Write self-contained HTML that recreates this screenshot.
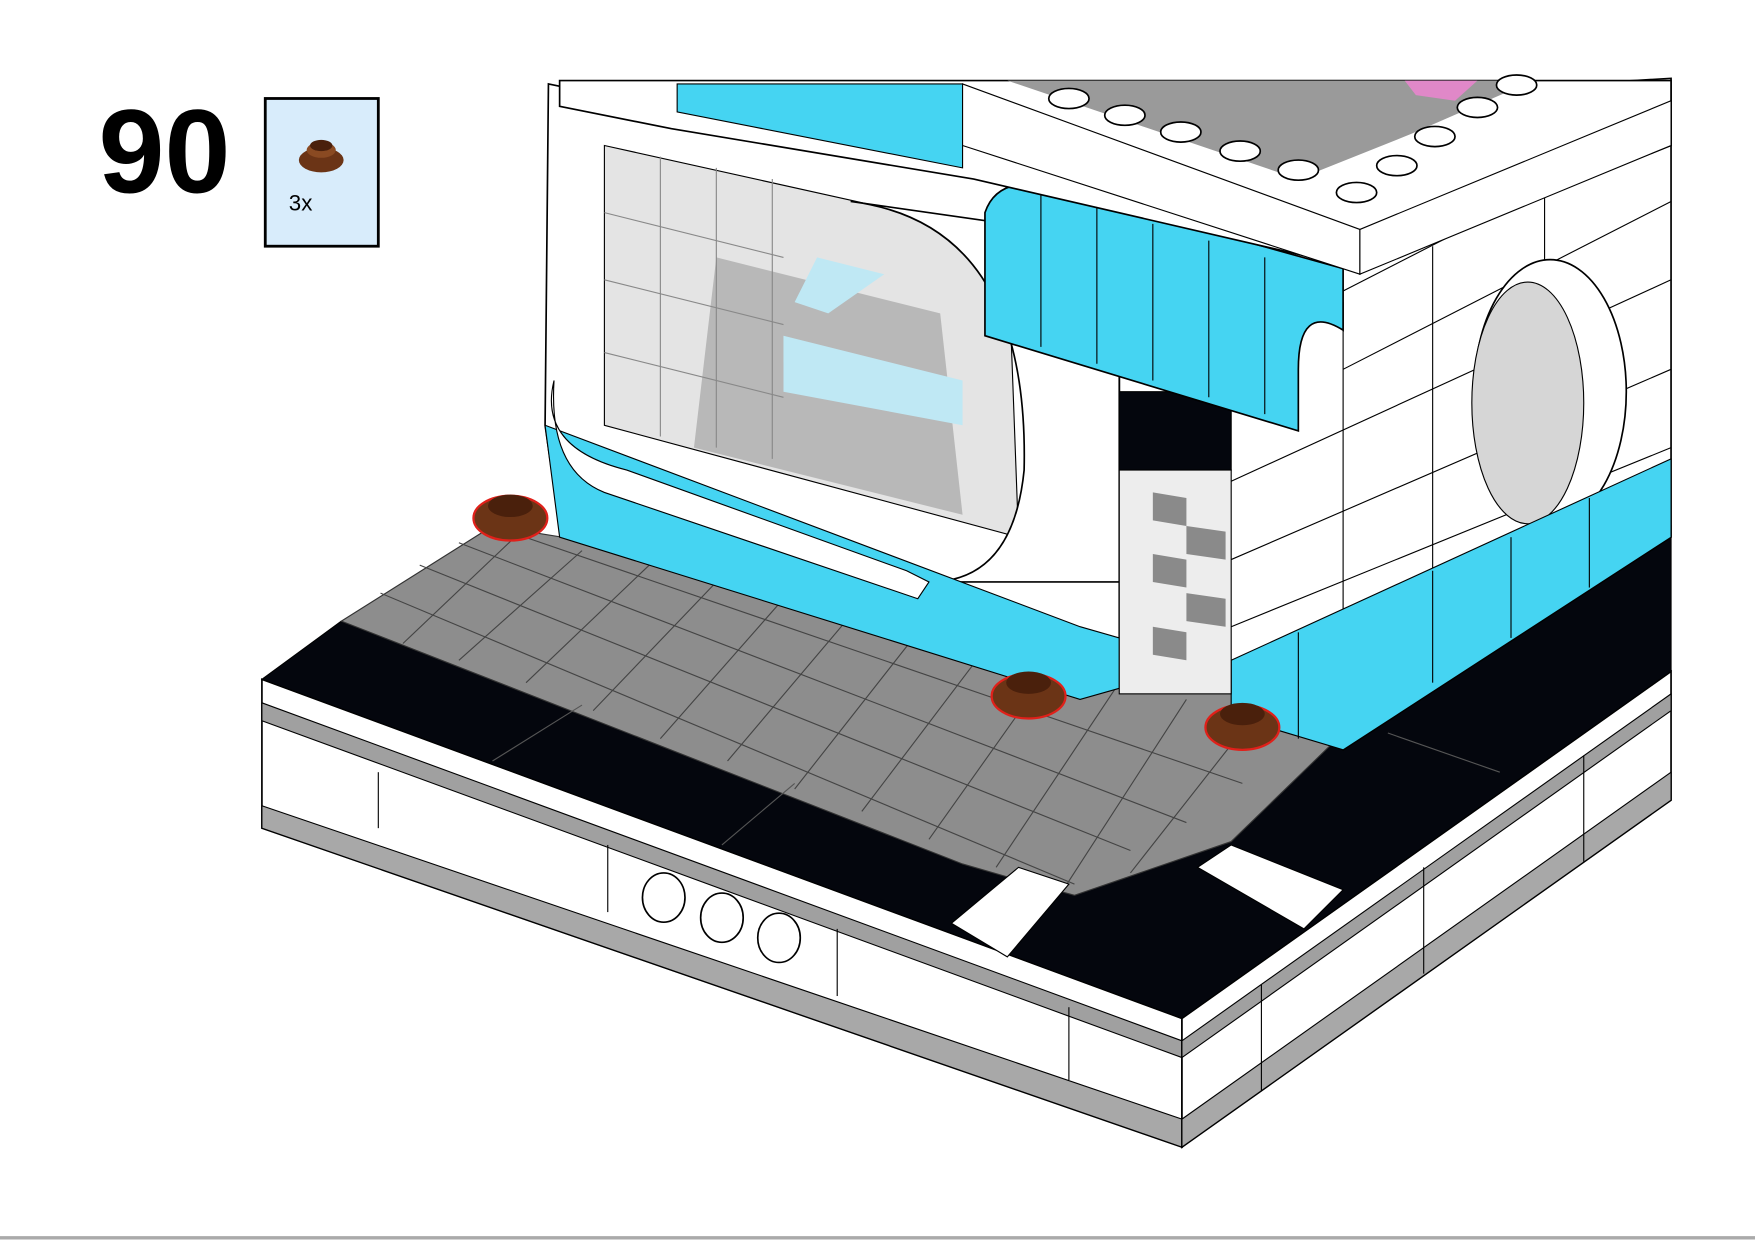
<!DOCTYPE html>
<html><head><meta charset="utf-8"><style>
html,body{margin:0;padding:0;background:#fff;width:1755px;height:1240px;overflow:hidden}
svg{display:block}
</style></head><body>
<svg width="1755" height="1240" viewBox="0 0 1568 1108" preserveAspectRatio="none" xmlns="http://www.w3.org/2000/svg">
<rect width="1568" height="1108" fill="#fff"/>
<text x="88" y="172" font-family="Liberation Sans, sans-serif" font-weight="bold" font-size="106" fill="#000">90</text>
<rect x="237" y="88" width="101" height="132" fill="#d8ecfb" stroke="#000" stroke-width="2.5"/>
<ellipse cx="287" cy="143" rx="20" ry="11" fill="#6b3416"/>
<ellipse cx="287" cy="134" rx="13" ry="7" fill="#8a4a22"/>
<ellipse cx="287" cy="130" rx="10" ry="5" fill="#4a200c"/>
<text x="258" y="188" font-family="Liberation Sans, sans-serif" font-size="20" fill="#000">3x</text>

<!-- base left side -->
<polygon points="234,607 1056,910 1056,1025 234,740" fill="#fff" stroke="#000" stroke-width="1.5"/>
<polygon points="234,628 1056,930 1056,945 234,644" fill="#a0a0a0" stroke="#000" stroke-width="1"/>
<polygon points="234,720 1056,1000 1056,1025 234,740" fill="#a8a8a8" stroke="#000" stroke-width="1"/>
<line x1="338" y1="690" x2="338" y2="740" stroke="#000"/>
<line x1="543" y1="755" x2="543" y2="815" stroke="#000"/>
<line x1="748" y1="830" x2="748" y2="890" stroke="#000"/>
<line x1="955" y1="900" x2="955" y2="965" stroke="#000"/>
<g fill="#fff" stroke="#000" stroke-width="1.5">
<ellipse cx="593" cy="802" rx="19" ry="22"/><ellipse cx="645" cy="820" rx="19" ry="22"/><ellipse cx="696" cy="838" rx="19" ry="22"/>
<ellipse cx="1307" cy="786" rx="13" ry="22"/><ellipse cx="1343" cy="760" rx="13" ry="22"/><ellipse cx="1379" cy="734" rx="13" ry="22"/>
</g>
<!-- base right side -->
<polygon points="1056,910 1493,600 1493,715 1056,1025" fill="#fff" stroke="#000" stroke-width="1.5"/>
<polygon points="1056,930 1493,620 1493,635 1056,945" fill="#a0a0a0" stroke="#000"/>
<polygon points="1056,1000 1493,690 1493,715 1056,1025" fill="#a8a8a8" stroke="#000"/>
<line x1="1127" y1="880" x2="1127" y2="975" stroke="#000"/>
<line x1="1272" y1="775" x2="1272" y2="870" stroke="#000"/>
<line x1="1415" y1="675" x2="1415" y2="770" stroke="#000"/>

<!-- top black road -->
<polygon points="234,607 305,555 1000,620 1493,470 1493,600 1056,910" fill="#04060d" stroke="#000"/>
<!-- sidewalk -->
<polygon points="305,555 440,470 1000,560 1200,655 1100,752 960,800 905,785 860,772" fill="#8d8d8d" stroke="#333"/>
<g stroke="#444" stroke-width="1">
<line x1="340" y1="530" x2="960" y2="790"/><line x1="375" y1="505" x2="1010" y2="760"/>
<line x1="410" y1="485" x2="1060" y2="735"/><line x1="440" y1="470" x2="1110" y2="700"/>
<line x1="460" y1="480" x2="360" y2="575"/><line x1="520" y1="492" x2="410" y2="590"/>
<line x1="580" y1="505" x2="470" y2="610"/><line x1="640" y1="520" x2="530" y2="635"/>
<line x1="700" y1="535" x2="590" y2="660"/><line x1="760" y1="550" x2="650" y2="680"/>
<line x1="820" y1="565" x2="710" y2="705"/><line x1="880" y1="580" x2="770" y2="725"/>
<line x1="940" y1="595" x2="830" y2="750"/><line x1="1000" y1="610" x2="890" y2="775"/>
<line x1="1060" y1="625" x2="950" y2="795"/><line x1="1120" y1="640" x2="1010" y2="780"/>
</g>
<line x1="440" y1="680" x2="520" y2="630" stroke="#555"/>
<line x1="645" y1="755" x2="710" y2="700" stroke="#555"/>
<line x1="1340" y1="690" x2="1240" y2="655" stroke="#555"/>
<!-- crosswalk -->
<polygon points="850,825 910,775 955,790 900,855" fill="#fff" stroke="#000"/>
<polygon points="1070,775 1100,755 1200,795 1165,830" fill="#fff" stroke="#000"/>

<!-- building right wall -->
<polygon points="1000,100 1493,70 1493,480 1200,670 1100,600 1000,600" fill="#fff" stroke="#000" stroke-width="1.5"/>
<g stroke="#000" stroke-width="1" fill="none">
<line x1="1200" y1="260" x2="1493" y2="110"/><line x1="1200" y1="330" x2="1493" y2="180"/>
<line x1="1100" y1="430" x2="1493" y2="250"/><line x1="1100" y1="500" x2="1493" y2="330"/>
<line x1="1100" y1="560" x2="1493" y2="400"/>
<line x1="1200" y1="270" x2="1200" y2="600"/><line x1="1280" y1="220" x2="1280" y2="560"/><line x1="1380" y1="160" x2="1380" y2="500"/>
</g>
<ellipse cx="1385" cy="350" rx="68" ry="118" fill="#fff" stroke="#000" stroke-width="1.5"/>
<ellipse cx="1365" cy="360" rx="50" ry="108" fill="#d6d6d6" stroke="#000"/>
<polygon points="1100,590 1493,410 1493,480 1200,670 1100,640" fill="#45d4f2" stroke="#000"/>
<g stroke="#000"><line x1="1160" y1="565" x2="1160" y2="660"/><line x1="1280" y1="510" x2="1280" y2="610"/><line x1="1350" y1="480" x2="1350" y2="570"/><line x1="1420" y1="445" x2="1420" y2="525"/></g>

<!-- building front-left -->
<polygon points="490,75 1000,180 1000,590 965,600 500,470 487,380" fill="#fff" stroke="#000" stroke-width="1.5"/>
<polygon points="540,130 900,210 910,480 540,380" fill="#e4e4e4" stroke="#000"/>
<polygon points="640,230 840,280 860,460 620,400" fill="#b8b8b8"/>
<polygon points="700,300 860,340 860,380 700,350" fill="#bfe8f4"/>
<polygon points="730,230 790,245 740,280 710,270" fill="#bfe8f4"/>
<g stroke="#888" fill="none"><line x1="540" y1="190" x2="700" y2="230"/><line x1="540" y1="250" x2="700" y2="290"/><line x1="540" y1="315" x2="700" y2="355"/>
<line x1="590" y1="140" x2="590" y2="390"/><line x1="640" y1="150" x2="640" y2="400"/><line x1="690" y1="160" x2="690" y2="410"/></g>
<path d="M760,180 Q920,200 915,420 Q905,520 830,520 L1000,520 L1000,300 Q960,200 900,200 Z" fill="#fff" stroke="#000" stroke-width="1.5"/>
<polygon points="487,380 965,560 1000,570 1000,615 965,625 500,480" fill="#45d4f2" stroke="#000"/>
<path d="M495,340 Q480,400 560,420 L810,510 L830,520 L820,535 L540,440 Q490,420 495,340 Z" fill="#fff" stroke="#000"/>
<!-- door -->
<rect x="1000" y="350" width="100" height="70" fill="#04060d" stroke="#000"/>
<rect x="1000" y="420" width="100" height="200" fill="#ededed" stroke="#000"/>
<g fill="#8a8a8a"><polygon points="1030,440 1060,445 1060,470 1030,465"/><polygon points="1060,470 1095,475 1095,500 1060,495"/><polygon points="1030,495 1060,500 1060,525 1030,520"/><polygon points="1060,530 1095,535 1095,560 1060,555"/><polygon points="1030,560 1060,565 1060,590 1030,585"/></g>
<!-- awning -->
<path d="M880,190 Q890,160 930,165 L1200,240 L1200,295 Q1160,270 1160,330 L1160,385 L880,300 Z" fill="#45d4f2" stroke="#000" stroke-width="1.5"/>
<g stroke="#000"><line x1="930" y1="170" x2="930" y2="310"/><line x1="980" y1="185" x2="980" y2="325"/><line x1="1030" y1="200" x2="1030" y2="340"/><line x1="1080" y1="215" x2="1080" y2="355"/><line x1="1130" y1="230" x2="1130" y2="370"/></g>
<!-- roof top -->
<polygon points="500,72 1493,72 1493,130 1215,240 870,160 600,115 500,95" fill="#fff" stroke="#000" stroke-width="1.5"/>
<polygon points="605,75 860,75 860,150 605,100" fill="#45d4f2" stroke="#000"/>
<polygon points="900,72 1370,72 1260,120 1160,160" fill="#9a9a9a"/>
<polygon points="1255,72 1320,72 1300,90 1265,85" fill="#e088c8"/>
<polygon points="860,75 1215,205 1215,245 860,130" fill="#fff" stroke="#000"/>
<polygon points="1215,205 1493,90 1493,130 1215,245" fill="#fff" stroke="#000"/>
<g fill="#fff" stroke="#000" stroke-width="1.5">
<ellipse cx="955" cy="88" rx="18" ry="9"/><ellipse cx="1005" cy="103" rx="18" ry="9"/><ellipse cx="1055" cy="118" rx="18" ry="9"/>
<ellipse cx="1108" cy="135" rx="18" ry="9"/><ellipse cx="1160" cy="152" rx="18" ry="9"/><ellipse cx="1212" cy="172" rx="18" ry="9"/>
<ellipse cx="1248" cy="148" rx="18" ry="9"/><ellipse cx="1282" cy="122" rx="18" ry="9"/><ellipse cx="1320" cy="96" rx="18" ry="9"/><ellipse cx="1355" cy="76" rx="18" ry="9"/>
</g>
<!-- brown studs -->
<g stroke="#e0201a" stroke-width="2">
<ellipse cx="456" cy="463" rx="33" ry="20" fill="#6b3416"/>
<ellipse cx="919" cy="622" rx="33" ry="20" fill="#6b3416"/>
<ellipse cx="1110" cy="650" rx="33" ry="20" fill="#6b3416"/>
</g>
<g fill="#4a200c">
<ellipse cx="456" cy="452" rx="20" ry="10"/><ellipse cx="919" cy="610" rx="20" ry="10"/><ellipse cx="1110" cy="638" rx="20" ry="10"/>
</g>
<line x1="0" y1="1106" x2="1568" y2="1106" stroke="#aaa" stroke-width="3"/>
</svg>
</body></html>
